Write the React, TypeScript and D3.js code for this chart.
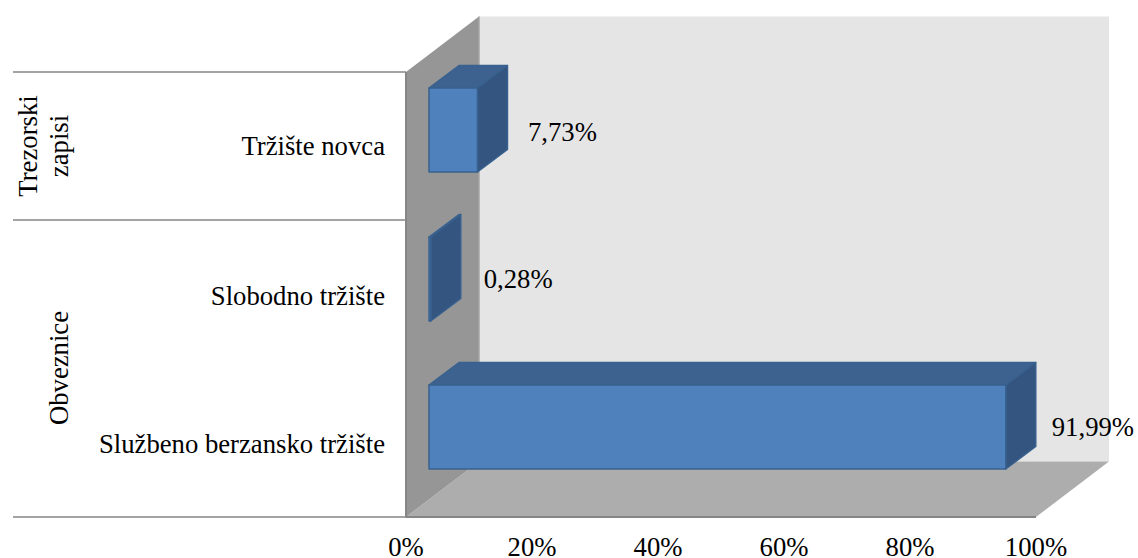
import React from "react";
import * as d3 from "d3";

const categories = ["Tržište novca", "Slobodno tržište", "Službeno berzansko tržište"];
const values = [7.73, 0.28, 91.99];
const valueLabels = ["7,73%", "0,28%", "91,99%"];
const ticks = [0, 20, 40, 60, 80, 100];
const separators = [72, 220, 517];
const FONT = "'Liberation Serif', 'Times New Roman', serif";

const x0 = 406, x1 = 1036, yTop = 72, yBot = 517, dx = 73, dy = -55.5;
const barDx = 30, barDy = -22.5;
const FS = 26.7;

export default function App() {
  const x = d3.scaleLinear().domain([0, 100]).range([x0, x1]);
  const barX = d3.scaleLinear().domain([0, 100]).range([429, 1056]);
  const y = d3.scaleBand().domain(categories).range([yTop - 16, yBot - 16]);
  const poly = (pts: number[][]) => pts.map((p) => p.join(",")).join(" ");
  const barH = 84;
  const labelDx = [50.5, 53, 46];
  const labelBase = [141, 288, 436];
  const catBase = [155, 305, 453];
  return (
    <svg width={1138} height={558} style={{ position: "absolute", left: 0, top: 0 }} fontFamily={FONT}>
      <polygon points={poly([[x0 + dx, yTop + dy], [x1 + dx, yTop + dy], [x1 + dx, yBot + dy], [x0 + dx, yBot + dy]])} fill="#e5e5e5" />
      <polygon points={poly([[x0, yBot], [x0 + dx, yBot + dy], [x1 + dx, yBot + dy], [x1, yBot]])} fill="#adadad" />
      <polygon points={poly([[x0, yTop], [x0 + dx, yTop + dy], [x0 + dx, yBot + dy], [x0, yBot]])} fill="#969696" />
      <line x1={x0 + dx} x2={x0 + dx} y1={yTop + dy} y2={yBot + dy} stroke="#a4a4a4" strokeWidth={1.5} />
      <line x1={x0} x2={x0} y1={yTop} y2={yBot} stroke="#868686" strokeWidth={2} />
      <line x1={x0} x2={x1} y1={yBot} y2={yBot} stroke="#868686" strokeWidth={2} />
      {separators.map((s) => (
        <line key={s} x1={13} x2={x0} y1={s} y2={s} stroke="#868686" strokeWidth={1.5} />
      ))}
      {categories.map((c, i) => {
        const right = barX(values[i]);
        const top = Math.round((y(c) as number) + y.bandwidth() / 2 - barH / 2);
        const bottom = top + barH;
        const left = 429;
        return (
          <g key={c} stroke="#38618f" strokeWidth={1.5} strokeLinejoin="round">
            <polygon points={poly([[left, top], [left + barDx, top + barDy], [right + barDx, top + barDy], [right, top]])} fill="#3d6290" />
            <polygon points={poly([[right, top], [right + barDx, top + barDy], [right + barDx, bottom + barDy], [right, bottom]])} fill="#335580" />
            <rect x={left} y={top} width={right - left} height={barH} fill="#4f81bd" />
            <text x={right + labelDx[i]} y={labelBase[i]} fontSize={FS} fill="#000" stroke="none">{valueLabels[i]}</text>
            <text x={385} y={catBase[i]} fontSize={FS} textAnchor="end" fill="#000" stroke="none">{c}</text>
          </g>
        );
      })}
      {ticks.map((t) => (
        <text key={t} x={x(t)} y={556} fontSize={FS} textAnchor="middle" fill="#000">{t}%</text>
      ))}
      <text transform="translate(37,146) rotate(-90)" fontSize={FS} textAnchor="middle" fill="#000">Trezorski</text>
      <text transform="translate(68,146) rotate(-90)" fontSize={FS} textAnchor="middle" fill="#000">zapisi</text>
      <text transform="translate(68,368) rotate(-90)" fontSize={FS} textAnchor="middle" fill="#000">Obveznice</text>
    </svg>
  );
}
